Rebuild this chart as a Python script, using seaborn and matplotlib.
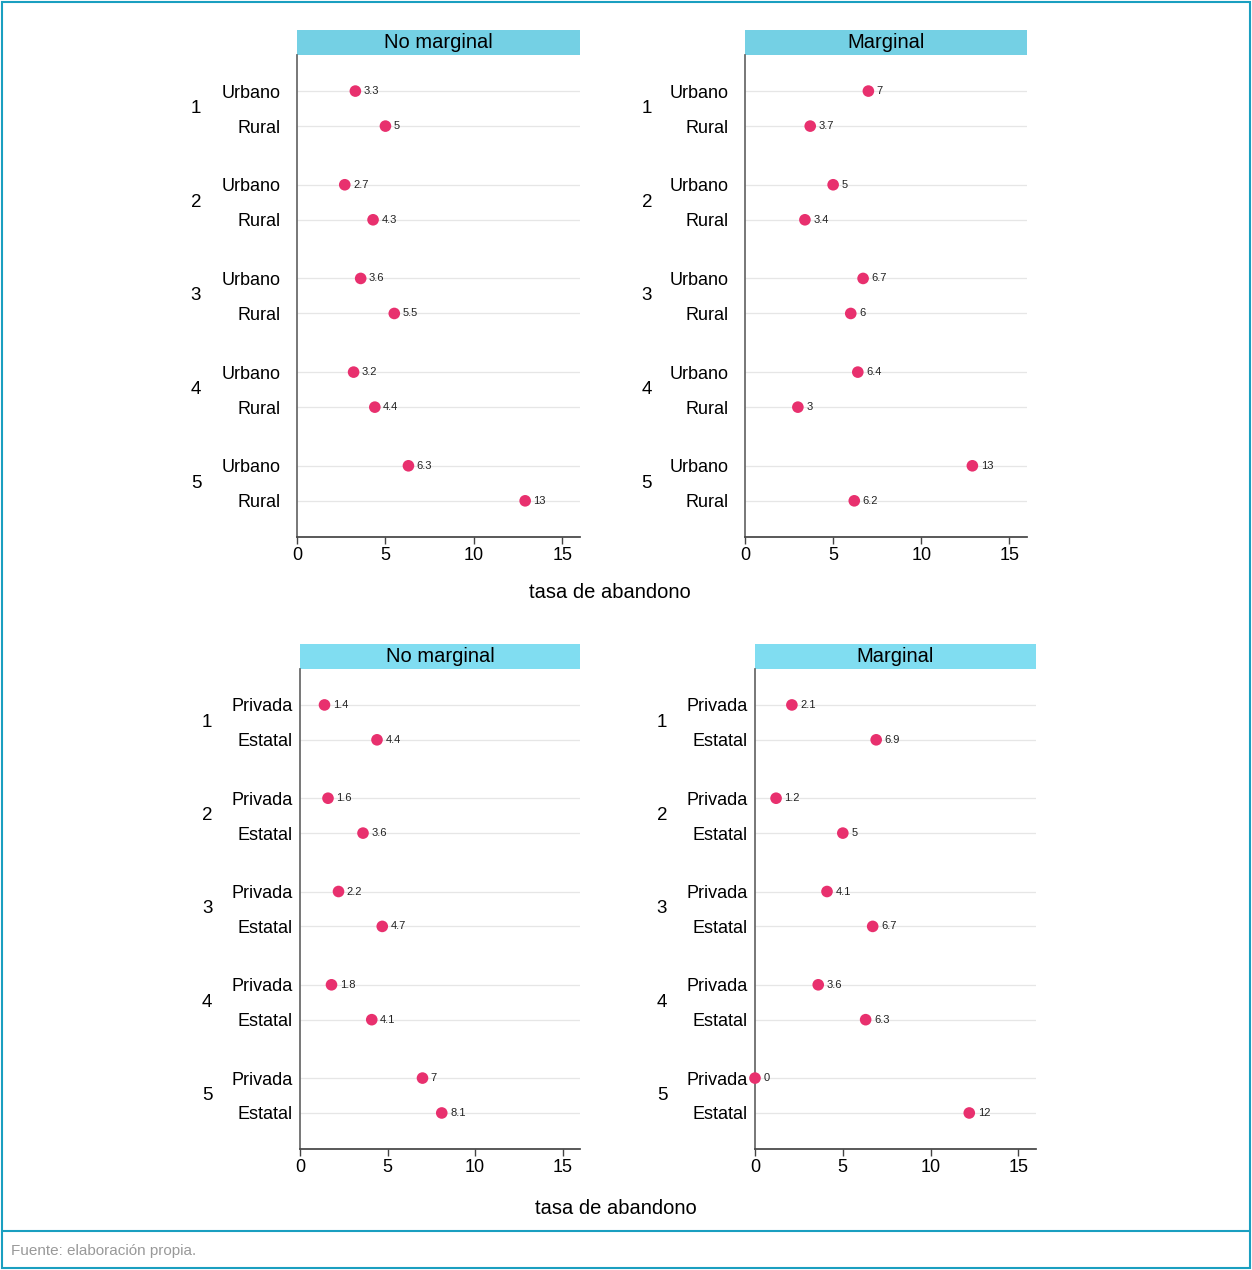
import pandas as pd
import matplotlib.pyplot as plt
import matplotlib.transforms as mtransforms
from matplotlib.patches import Rectangle
import seaborn as sns

sns.set_theme(style="white")
plt.rcParams['font.family'] = ['Liberation Sans', 'DejaVu Sans']
plt.rcParams.update({'text.color': 'black', 'xtick.color': 'black',
                     'ytick.color': 'black', 'axes.labelcolor': 'black'})

# Datos
grupos = ["1", "2", "3", "4", "5"]
zonas = ["Urbano", "Rural"]
gestion = ["Privada", "Estatal"]
paneles = ["No marginal", "Marginal"]

# tasa de abandono por zona (Urbano, Rural) para cada grupo
zona_no_marginal = [3.3, 5.0, 2.7, 4.3, 3.6, 5.5, 3.2, 4.4, 6.3, 12.9]
zona_marginal = [7.0, 3.7, 5.0, 3.4, 6.7, 6.0, 6.4, 3.0, 12.9, 6.2]

# tasa de abandono por gestión (Privada, Estatal) para cada grupo
gestion_no_marginal = [1.4, 4.4, 1.6, 3.6, 2.2, 4.7, 1.8, 4.1, 7.0, 8.1]
gestion_marginal = [2.1, 6.9, 1.2, 5.0, 4.1, 6.7, 3.6, 6.3, 0.0, 12.2]

PUNTO = "#E8306E"
W, H = 1252, 1270
PASO = 93.6 / 35  # distancia entre grupos (en filas)


def tabla(valores, subs):
    filas = []
    for i, v in enumerate(valores):
        g, s = divmod(i, 2)
        filas.append({"grupo": grupos[g], "sub": subs[s], "valor": v,
                      "pos": g * PASO + s})
    return pd.DataFrame(filas)


def rect(x0, y0, x1, y1):
    return [x0 / W, 1 - y1 / H, (x1 - x0) / W, (y1 - y0) / H]


def panel(fig, caja, df, titulo, color_tit, x_grupo, pad_lab):
    ax = fig.add_axes(rect(*caja))
    for p in df["pos"]:
        ax.axhline(p, color="#e6e6e6", lw=0.9, zorder=0)
    sns.scatterplot(data=df, x="valor", y="pos", ax=ax, color=PUNTO,
                    s=70, edgecolor="none", zorder=3, clip_on=False)
    for _, r in df.iterrows():
        ax.annotate(format(r["valor"], ".2g"), (r["valor"], r["pos"]),
                    xytext=(6, 0), textcoords="offset points",
                    fontsize=8, va="center", color="#222222")
    ax.set_xlim(0, 16)
    ax.set_ylim(11.7 + 1.03, -1.03)
    ax.set_xticks([0, 5, 10, 15])
    ax.set_yticks(df["pos"])
    ax.set_yticklabels(df["sub"])
    ax.tick_params(axis="y", length=0, pad=pad_lab, labelsize=13)
    ax.tick_params(axis="x", length=5, width=1, color="#444444",
                   labelsize=13, pad=2, bottom=True)
    ax.set_xlabel("")
    ax.set_ylabel("")
    for lado in ["top", "right"]:
        ax.spines[lado].set_visible(False)
    ax.spines["left"].set_color("#666666")
    ax.spines["bottom"].set_color("#444444")
    trans = mtransforms.blended_transform_factory(ax.transAxes, ax.transData)
    for gi, g in enumerate(grupos):
        ax.text(x_grupo, gi * PASO + 0.5, g, transform=trans, fontsize=13.5,
                ha="center", va="center")
    alto = 25 / (caja[3] - caja[1])
    ax.add_patch(Rectangle((0, 1), 1, alto, transform=ax.transAxes,
                           facecolor=color_tit, edgecolor="none", clip_on=False))
    ax.text(0.5, 1 + alto / 2, titulo, transform=ax.transAxes, fontsize=14.5,
            ha="center", va="center")
    return ax


fig = plt.figure(figsize=(W / 100, H / 100), dpi=100)

panel(fig, (297, 55, 580, 537), tabla(zona_no_marginal, zonas),
      paneles[0], "#74D0E4", -0.357, 11.5)
panel(fig, (745, 55, 1027, 537), tabla(zona_marginal, zonas),
      paneles[1], "#74D0E4", -0.348, 11.5)
panel(fig, (300, 669, 580, 1149), tabla(gestion_no_marginal, gestion),
      paneles[0], "#80DDF1", -0.332, 5)
panel(fig, (755, 669, 1036, 1149), tabla(gestion_marginal, gestion),
      paneles[1], "#80DDF1", -0.331, 5)

fig.text(610 / W, 1 - 592 / H, "tasa de abandono", fontsize=14.5,
         ha="center", va="center")
fig.text(616 / W, 1 - 1208 / H, "tasa de abandono", fontsize=14.5,
         ha="center", va="center")

# Marco y pie
borde = "#1A9FC0"
fig.add_artist(Rectangle((2 / W, 2 / H), 1 - 4 / W, 1 - 4 / H,
                         transform=fig.transFigure, fill=False,
                         edgecolor=borde, lw=1.5))
fig.add_artist(plt.Line2D([2 / W, 1 - 2 / W], [1 - 1231 / H, 1 - 1231 / H],
                          transform=fig.transFigure, color=borde, lw=1.5))
fig.text(11 / W, 1 - 1251 / H, "Fuente: elaboración propia.", fontsize=11,
         color="#999999", ha="left", va="center")

fig.savefig("out.png", dpi=100)
